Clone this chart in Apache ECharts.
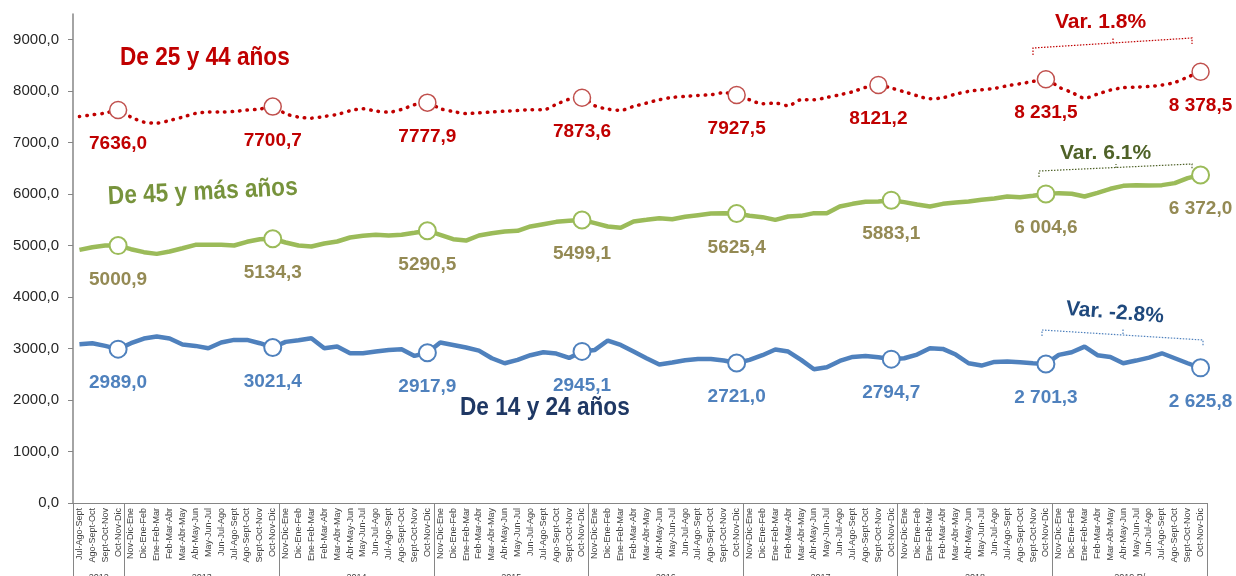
<!DOCTYPE html>
<html>
<head>
<meta charset="utf-8">
<title>Ocupados por grupo de edad</title>
<script src="https://cdn.jsdelivr.net/npm/echarts@6/dist/echarts.min.js"></script>
<style>
  html, body { margin: 0; padding: 0; background: #fff; }
  #chart { width: 1236px; height: 576px; }
</style>
</head>
<body>
<div id="chart"></div>
<script>
// trimestres móviles, jul-ago-sept 2012 a oct-nov-dic 2019
var firstPeriods = ['Jul-Ago-Sept', 'Ago-Sept-Oct', 'Sept-Oct-Nov', 'Oct-Nov-Dic'];
var yearPeriods = ['Nov-Dic-Ene', 'Dic-Ene-Feb', 'Ene-Feb-Mar', 'Feb-Mar-Abr', 'Mar-Abr-May', 'Abr-May-Jun',
  'May-Jun-Jul', 'Jun-Jul-Ago', 'Jul-Ago-Sept', 'Ago-Sept-Oct', 'Sept-Oct-Nov', 'Oct-Nov-Dic'];
var years = ['2012', '2013', '2014', '2015', '2016', '2017', '2018', '2019 P/'];
var yearBounds = [0, 4, 16, 28, 40, 52, 64, 76, 88];
var yearCenters = [2, 10, 22, 34, 46, 58, 70, 82];

// De 25 y 44 años (miles)
var edad25a44 = [
  7510, 7542, 7575, 7636.0, 7497, 7400, 7380, 7432, 7497, 7568, 7594, 7594,
  7607, 7633, 7653, 7700.7, 7562, 7497, 7477, 7510, 7549, 7620, 7659, 7614,
  7594, 7646, 7737, 7777.9, 7660, 7605, 7565, 7580, 7595, 7612, 7625, 7640,
  7640, 7745, 7845, 7873.6, 7717, 7653, 7630, 7705, 7769, 7834, 7879, 7899,
  7918, 7931, 7970, 7927.5, 7834, 7756, 7769, 7717, 7834, 7834, 7879, 7931,
  7989, 8074, 8121.2, 8061, 7989, 7912, 7853, 7873, 7944, 7996, 8028, 8054,
  8106, 8145, 8190, 8231.5, 8080, 7977, 7866, 7944, 8022, 8067, 8080, 8093,
  8119, 8171, 8275, 8378.5
];
// De 45 y más años
var edad45mas = [
  4918, 4970, 5002, 5000.9, 4931, 4873, 4840, 4886, 4950, 5015, 5015, 5015,
  5002, 5074, 5125, 5134.3, 5061, 5002, 4983, 5041, 5080, 5158, 5190, 5210,
  5197, 5210, 5250, 5290.5, 5210, 5125, 5099, 5197, 5242, 5274, 5287, 5372,
  5417, 5462, 5482, 5499.1, 5436, 5372, 5346, 5469, 5501, 5534, 5514, 5560,
  5592, 5624, 5631, 5625.4, 5579, 5553, 5501, 5566, 5579, 5631, 5631, 5760,
  5812, 5851, 5858, 5883.1, 5845, 5799, 5760, 5812, 5838, 5858, 5890, 5916,
  5955, 5942, 5968, 6004.6, 6020, 6007, 5955, 6026, 6104, 6162, 6175, 6169,
  6175, 6214, 6311, 6372.0
];
// De 14 y 24 años
var edad14a24 = [
  3084, 3104, 3052, 2989.0, 3104, 3195, 3233, 3195, 3078, 3052, 3007, 3117,
  3169, 3169, 3104, 3021.4, 3130, 3162, 3201, 3007, 3039, 2909, 2909, 2942,
  2974, 2987, 2858, 2917.9, 3117, 3071, 3020, 2961, 2812, 2715, 2780, 2871,
  2929, 2903, 2819, 2945.1, 2974, 3156, 3071, 2942, 2812, 2689, 2728, 2773,
  2799, 2799, 2767, 2721.0, 2780, 2871, 2981, 2942, 2780, 2598, 2637, 2760,
  2838, 2858, 2832, 2794.7, 2812, 2884, 3007, 2994, 2884, 2715, 2670, 2741,
  2748, 2735, 2715, 2701.3, 2877, 2929, 3039, 2871, 2838, 2715, 2767, 2825,
  2909, 2812, 2715, 2625.8
];
// puntos con circulo y etiqueta
var marcas25a44 = [3, 15, 27, 39, 51, 62, 75, 87];
var marcas = [3, 15, 27, 39, 51, 63, 75, 87];

var periods = firstPeriods.slice();
for (var y = 0; y < 7; y++) periods = periods.concat(yearPeriods);

var sans = "'Liberation Sans', Arial, sans-serif";

function fmtNum(v, idx) {
  var s = v.toFixed(1).replace('.', ',');
  if (idx >= 75) s = s.replace(/^(\d)(\d{3})/, '$1 $2');
  return s;
}

function buildData(values, idxs, border, borderWidth) {
  return values.map(function (v, i) {
    if (idxs.indexOf(i) >= 0) {
      return {
        value: v, symbol: 'circle', symbolSize: 17,
        itemStyle: { color: '#fff', borderColor: border, borderWidth: borderWidth },
        label: { show: true }
      };
    }
    return { value: v, symbol: 'none' };
  });
}

function labelOf(color) {
  return {
    show: false, position: 'bottom', distance: 15,
    color: color, fontSize: 19, fontWeight: 'bold', fontFamily: sans,
    formatter: function (p) { return fmtNum(p.value, p.dataIndex); }
  };
}

// textos sueltos, angostados como Arial Narrow
function note(text, x, y, color, size, rot, sx) {
  return {
    type: 'text', x: x, y: y, rotation: rot || 0, scaleX: sx || 1,
    style: { text: text, fill: color, font: 'bold ' + size + 'px ' + sans, textVerticalAlign: 'middle' }
  };
}

var chart = echarts.init(document.getElementById('chart'));
var option = {
  animation: false,
  grid: { left: 73, right: 29, top: 14, bottom: 73, containLabel: false, outerBoundsMode: 'none' },
  xAxis: [
    {
      type: 'category', data: periods, boundaryGap: true,
      axisLine: { lineStyle: { color: '#868686', width: 1 } },
      axisTick: { length: 59, lineStyle: { color: '#A6A6A6' } },
      axisLabel: { rotate: 90, interval: 0, fontSize: 9, color: '#404040', margin: 5, fontFamily: sans },
      splitLine: { show: false }
    },
    {
      type: 'value', min: 0, max: 88, position: 'bottom',
      axisLine: { show: false },
      splitLine: { show: false },
      axisTick: { show: true, customValues: yearBounds, length: 80, lineStyle: { color: '#868686' } },
      axisLabel: {
        customValues: yearCenters, margin: 70, fontSize: 9, color: '#404040',
        formatter: function (v) { return years[yearCenters.indexOf(v)] || ''; }
      }
    }
  ],
  yAxis: {
    type: 'value', min: 0, max: 9500, interval: 1000,
    axisLine: { show: true, lineStyle: { color: '#868686', width: 1.5 } },
    axisTick: { show: true, length: 5, lineStyle: { color: '#868686' } },
    splitLine: { show: false },
    axisLabel: {
      showMaxLabel: false, margin: 14, fontSize: 15, color: '#262626', fontFamily: sans,
      formatter: function (v) { return v.toFixed(1).replace('.', ','); }
    }
  },
  series: [
    {
      name: 'De 25 y 44 años', type: 'line', symbol: 'none', showAllSymbol: true, smooth: 0.3,
      lineStyle: { color: '#C00000', width: 3.5, type: [0.5, 7], cap: 'round' },
      itemStyle: { color: '#C00000' },
      label: labelOf('#C00000'),
      data: buildData(edad25a44, marcas25a44, '#C0504D', 1.5)
    },
    {
      name: 'De 45 y más años', type: 'line', symbol: 'none', showAllSymbol: true,
      lineStyle: { color: '#9BBB59', width: 4.5 },
      itemStyle: { color: '#9BBB59' },
      label: labelOf('#948A54'),
      data: buildData(edad45mas, marcas, '#9BBB59', 2)
    },
    {
      name: 'De 14 y 24 años', type: 'line', symbol: 'none', showAllSymbol: true,
      lineStyle: { color: '#4F81BD', width: 4.5 },
      itemStyle: { color: '#4F81BD' },
      label: labelOf('#4F81BD'),
      data: buildData(edad14a24, marcas, '#4F81BD', 2)
    }
  ],
  graphic: [
    // nombres de las series
    note('De 25 y 44 años', 120, 58, '#C00000', 26, 0, 0.87),
    note('De 45 y más años', 108, 197, '#77933C', 26, 0.05, 0.87),
    note('De 14 y 24 años', 460, 408, '#1F3864', 26, 0, 0.87),
    // variaciones
    note('Var. 1.8%', 1055, 22, '#C00000', 21),
    note('Var. 6.1%', 1060, 153, '#4F6228', 21),
    note('Var. -2.8%', 1066, 309, '#1F497D', 21, -0.08),
    // llaves punteadas
    { type: 'polyline', shape: { points: [[1033, 55], [1033, 48], [1192, 38], [1192, 44]] }, style: { stroke: '#C00000', lineWidth: 1.2, lineDash: [1.5, 1.5], fill: null } },
    { type: 'line', shape: { x1: 1113, y1: 43, x2: 1113, y2: 37 }, style: { stroke: '#C00000', lineWidth: 1.2, lineDash: [1.5, 1.5] } },
    { type: 'polyline', shape: { points: [[1039, 177], [1039, 171], [1192, 164], [1192, 169]] }, style: { stroke: '#4F6228', lineWidth: 1.2, lineDash: [1.5, 1.5], fill: null } },
    { type: 'line', shape: { x1: 1116, y1: 168, x2: 1116, y2: 164 }, style: { stroke: '#4F6228', lineWidth: 1.2, lineDash: [1.5, 1.5] } },
    { type: 'polyline', shape: { points: [[1042, 336], [1042, 330], [1203, 340], [1203, 346]] }, style: { stroke: '#4F81BD', lineWidth: 1.2, lineDash: [1.5, 1.5], fill: null } },
    { type: 'line', shape: { x1: 1123, y1: 334, x2: 1123, y2: 329 }, style: { stroke: '#4F81BD', lineWidth: 1.2, lineDash: [1.5, 1.5] } }
  ]
};
chart.setOption(option);
</script>
</body>
</html>
